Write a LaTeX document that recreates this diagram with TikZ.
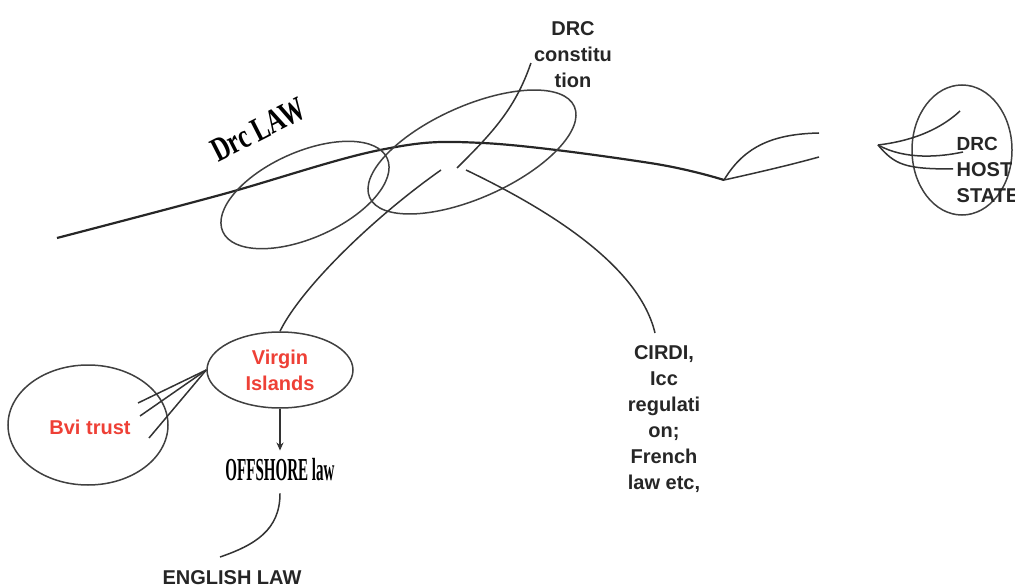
\documentclass[tikz,border=0pt]{standalone}
\usepackage{fontspec}
\setmainfont{Liberation Sans}
\newfontfamily\heavyfont{Liberation Serif}
\usetikzlibrary{shapes.geometric,arrows.meta}
\definecolor{redtxt}{RGB}{238,64,54}

\begin{document}
\begin{tikzpicture}
	[x=1pt,y=-1pt,
	lbl/.style={font=\bfseries\fontsize{20}{26}\selectfont,text=black!85,align=center,inner sep=0pt},
	redlbl/.style={lbl,text=redtxt},
	heavy/.style={font=\heavyfont\bfseries\fontsize{34}{34}\selectfont,text=black,inner sep=0pt},
	ring/.style={ellipse,draw=black!75,line width=1.5pt,inner sep=0pt},
	wire/.style={draw=black!80,line width=1.5pt}]
	\useasboundingbox (0,0) rectangle (1015,588);
	% main line
	\draw[black!85,line width=2.2pt] plot[smooth,tension=0.6] coordinates {(57,238) (220,195) (380,150) (483,143) (650,163) (724,180)};
	\coordinate (v) at (724,180);
	\draw[wire] (v) .. controls (745,145) and (775,134) .. (819,133);
	\draw[wire] (v) .. controls (760,172) and (790,165) .. (819,157);
	% ellipses on the line
	\node[ring,rotate=24,minimum width=180,minimum height=86] (drclaw) at (305,195) {};
	\node[ring,rotate=24,minimum width=224,minimum height=92] (drcc) at (472,152) {};
	\node[heavy,rotate=27] (drclawtxt) at (258,130) {\scalebox{0.72}[1]{Drc LAW}};
	\node[lbl] (drcctxt) at (573,55) {DRC\\constitu\\tion};
	\coordinate (ca) at (457,168);
	\draw[wire] ([shift={(-3,8)}]drcctxt.west) .. controls (515,110) and (490,135) .. (ca);
	% host state
	\node[ring,minimum width=100,minimum height=130] (host) at (962,150) {};
	\node[lbl,align=left] (hosttxt) at (988,170) {\fontsize{19}{26}\selectfont DRC\\HOST\\STATE};
	\coordinate (tip) at (878,145);
	\draw[wire] (tip) .. controls (920,140) and (945,125) .. (960,111);
	\draw[wire] (tip) .. controls (905,160) and (940,157) .. (963,152);
	\draw[wire] (tip) .. controls (895,165) and (905,169) .. (953,169);
	% virgin islands / bvi
	\node[ring,minimum width=146,minimum height=76] (virgin) at (280,370) {};
	\node[redlbl] at (virgin) {Virgin\\Islands};
	\node[ring,minimum width=160,minimum height=120] (bvi) at (88,425) {};
	\node[redlbl] at (90,427) {Bvi trust};
	\coordinate (b1) at (138,403);
	\coordinate (b2) at (140,416);
	\coordinate (b3) at (149,438);
	\draw[wire] (virgin.west) -- (b1);
	\draw[wire] (virgin.west) -- (b2);
	\draw[wire] (virgin.west) -- (b3);
	\coordinate (c1) at (441,170);
	\draw[wire] (c1) .. controls (370,220) and (300,290) .. (virgin.north);
	% offshore
	\node[heavy,font=\heavyfont\bfseries\fontsize{32}{32}\selectfont] (offshore) at (280,470) {\scalebox{0.47}[1]{OFFSHORE law}};
	\draw[wire,-{Stealth[length=8pt,width=7pt]}] (virgin.south) -- ([yshift=8]offshore.north);
	\node[lbl] (english) at (232,578) {ENGLISH LAW};
	\coordinate (e1) at (220,557);
	\draw[wire] ([yshift=-12]offshore.south) .. controls (280,530) and (255,545) .. (e1);
	% cirdi
	\node[lbl,anchor=north] (cirdi) at (664,345) {CIRDI,\\Icc\\regulati\\on;\\French\\law etc,};
	\coordinate (c2) at (466,170);
	\draw[wire] (c2) .. controls (560,215) and (640,270) .. ([shift={(-9,-12)}]cirdi.north);
\end{tikzpicture}
\end{document}
